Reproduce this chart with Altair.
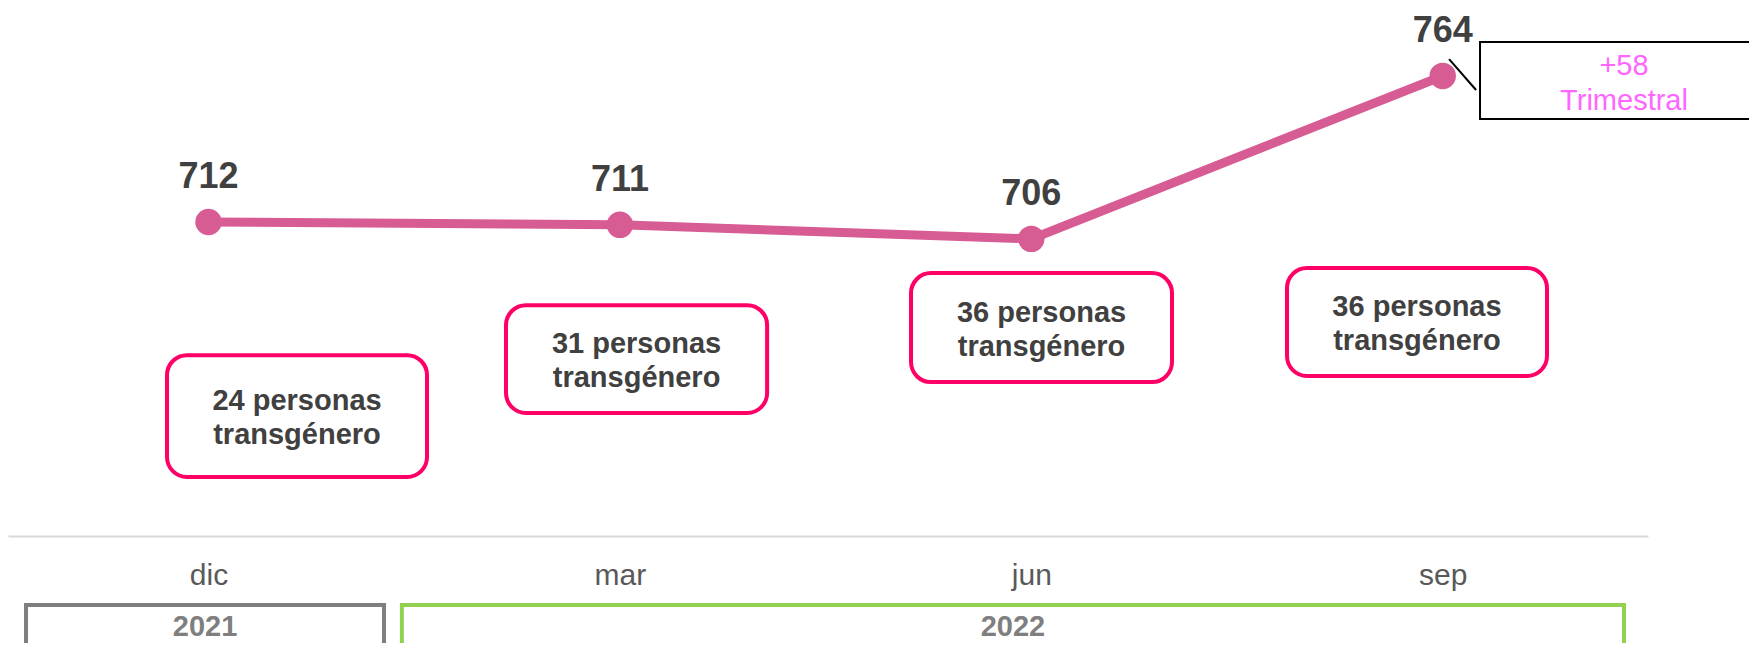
import altair as alt
import pandas as pd

# ---- data ----
months = ["dic", "mar", "jun", "sep"]
values = [712, 711, 706, 764]
counts = ["24 personas\ntransgénero", "31 personas\ntransgénero",
          "36 personas\ntransgénero", "36 personas\ntransgénero"]
years = ["2021", "2022"]
delta_text = "+58\nTrimestral"

# ---- scales ----
XS = alt.Scale(domain=[-0.4874, 3.499], nice=False, zero=False)
YS = alt.Scale(domain=[600.2, 788.2], nice=False, zero=False)
FONT = "Liberation Sans"

idx = list(range(len(months)))
main = pd.DataFrame({"i": idx, "month": months, "v": values})

label_expr = "[" + ",".join(f"'{m}'" for m in months) + "][datum.value]"
x_axis = alt.Axis(values=idx, labelExpr=label_expr, ticks=False,
                  domainColor="#D9D9D9", domainWidth=2, grid=False,
                  labelFontSize=30, labelColor="#595959", labelPadding=24,
                  labelFont=FONT, title=None)


def X(f):
    return alt.X(f, scale=XS, axis=x_axis)


def Y(f):
    return alt.Y(f, scale=YS, axis=None)


line = alt.Chart(main).mark_line(color="#D85C94", strokeWidth=9).encode(
    x=X("i:Q"), y=Y("v:Q"))
pts = alt.Chart(main).mark_circle(color="#D85C94", size=700, opacity=1).encode(
    x=X("i:Q"), y=Y("v:Q"))
vlabels = alt.Chart(main).mark_text(
    font=FONT, fontSize=36, fontWeight="bold", color="#404040",
    baseline="middle", dy=-45
).encode(x=X("i:Q"), y=Y("v:Q"), text="v:Q")

# annotation boxes (positions in data units)
boxes = pd.DataFrame({
    "x0": [-0.1009, 0.7231, 1.7076, 2.6215],
    "x1": [0.5311, 1.3578, 2.3420, 3.2535],
    "y0": [664.6, 682.4, 693.8, 695.6],
    "y1": [621.2, 644.0, 655.0, 657.2],
    "t": counts,
})
boxes["xc"] = (boxes.x0 + boxes.x1) / 2
boxes["yc"] = (boxes.y0 + boxes.y1) / 2

box_rects = alt.Chart(boxes).mark_rect(
    fill="white", stroke="#FF0066", strokeWidth=4, cornerRadius=20
).encode(x=X("x0:Q"), x2="x1", y=Y("y0:Q"), y2="y1")
box_text = alt.Chart(boxes).mark_text(
    font=FONT, fontSize=29, fontWeight="bold", color="#404040",
    lineBreak="\n", lineHeight=34, baseline="middle", align="center", dy=-15
).encode(x=X("xc:Q"), y=Y("yc:Q"), text="t:N")

# year boxes
yb = pd.DataFrame({
    "year": years,
    "x0": [-0.4436, 0.4700],
    "x1": [0.4266, 3.4407],
    "y0": [575.6, 575.6],
    "y1": [538.9, 538.9],
})
yb["xc"] = (yb.x0 + yb.x1) / 2
yb["yt"] = 567.8
year_rect_a = alt.Chart(yb.iloc[[0]]).mark_rect(
    fill="white", stroke="#7F7F7F", strokeWidth=4).encode(
    x=X("x0:Q"), x2="x1", y=Y("y0:Q"), y2="y1")
year_rect_b = alt.Chart(yb.iloc[[1]]).mark_rect(
    fill="white", stroke="#92D050", strokeWidth=4).encode(
    x=X("x0:Q"), x2="x1", y=Y("y0:Q"), y2="y1")
year_text = alt.Chart(yb).mark_text(
    font=FONT, fontSize=29, fontWeight="bold", color="#7F7F7F", baseline="middle"
).encode(x=X("xc:Q"), y=Y("yt:Q"), text="year:N")

# quarterly change callout
cb = pd.DataFrame({"x0": [3.0907], "x1": [3.888], "y0": [776.1], "y1": [748.7],
                   "xc": [3.4407], "yc": [762.0], "t": [delta_text]})
call_rect = alt.Chart(cb).mark_rect(fill="white", stroke="black", strokeWidth=2).encode(
    x=X("x0:Q"), x2="x1", y=Y("y0:Q"), y2="y1")
call_text = alt.Chart(cb).mark_text(
    font=FONT, fontSize=29, color="#FF66FF", lineBreak="\n", lineHeight=35,
    baseline="middle", align="center", dy=-16
).encode(x=X("xc:Q"), y=Y("yc:Q"), text="t:N")
leader = pd.DataFrame({"x0": [3.0155], "x1": [3.0811], "y0": [770.0], "y1": [759.0]})
call_line = alt.Chart(leader).mark_rule(color="black", strokeWidth=2).encode(
    x=X("x0:Q"), x2="x1", y=Y("y0:Q"), y2="y1")

chart = alt.layer(
    year_rect_a, year_rect_b, year_text, box_rects, box_text,
    call_line, call_rect, call_text, line, pts, vlabels
).properties(
    width=1640, height=528,
    autosize=alt.AutoSizeParams(type="none"),
    padding={"left": 0, "top": 0, "right": 101, "bottom": 107},
    background="white",
).configure_view(strokeWidth=0)

chart.save("out.html", embed_options={"renderer": "svg", "actions": False})
